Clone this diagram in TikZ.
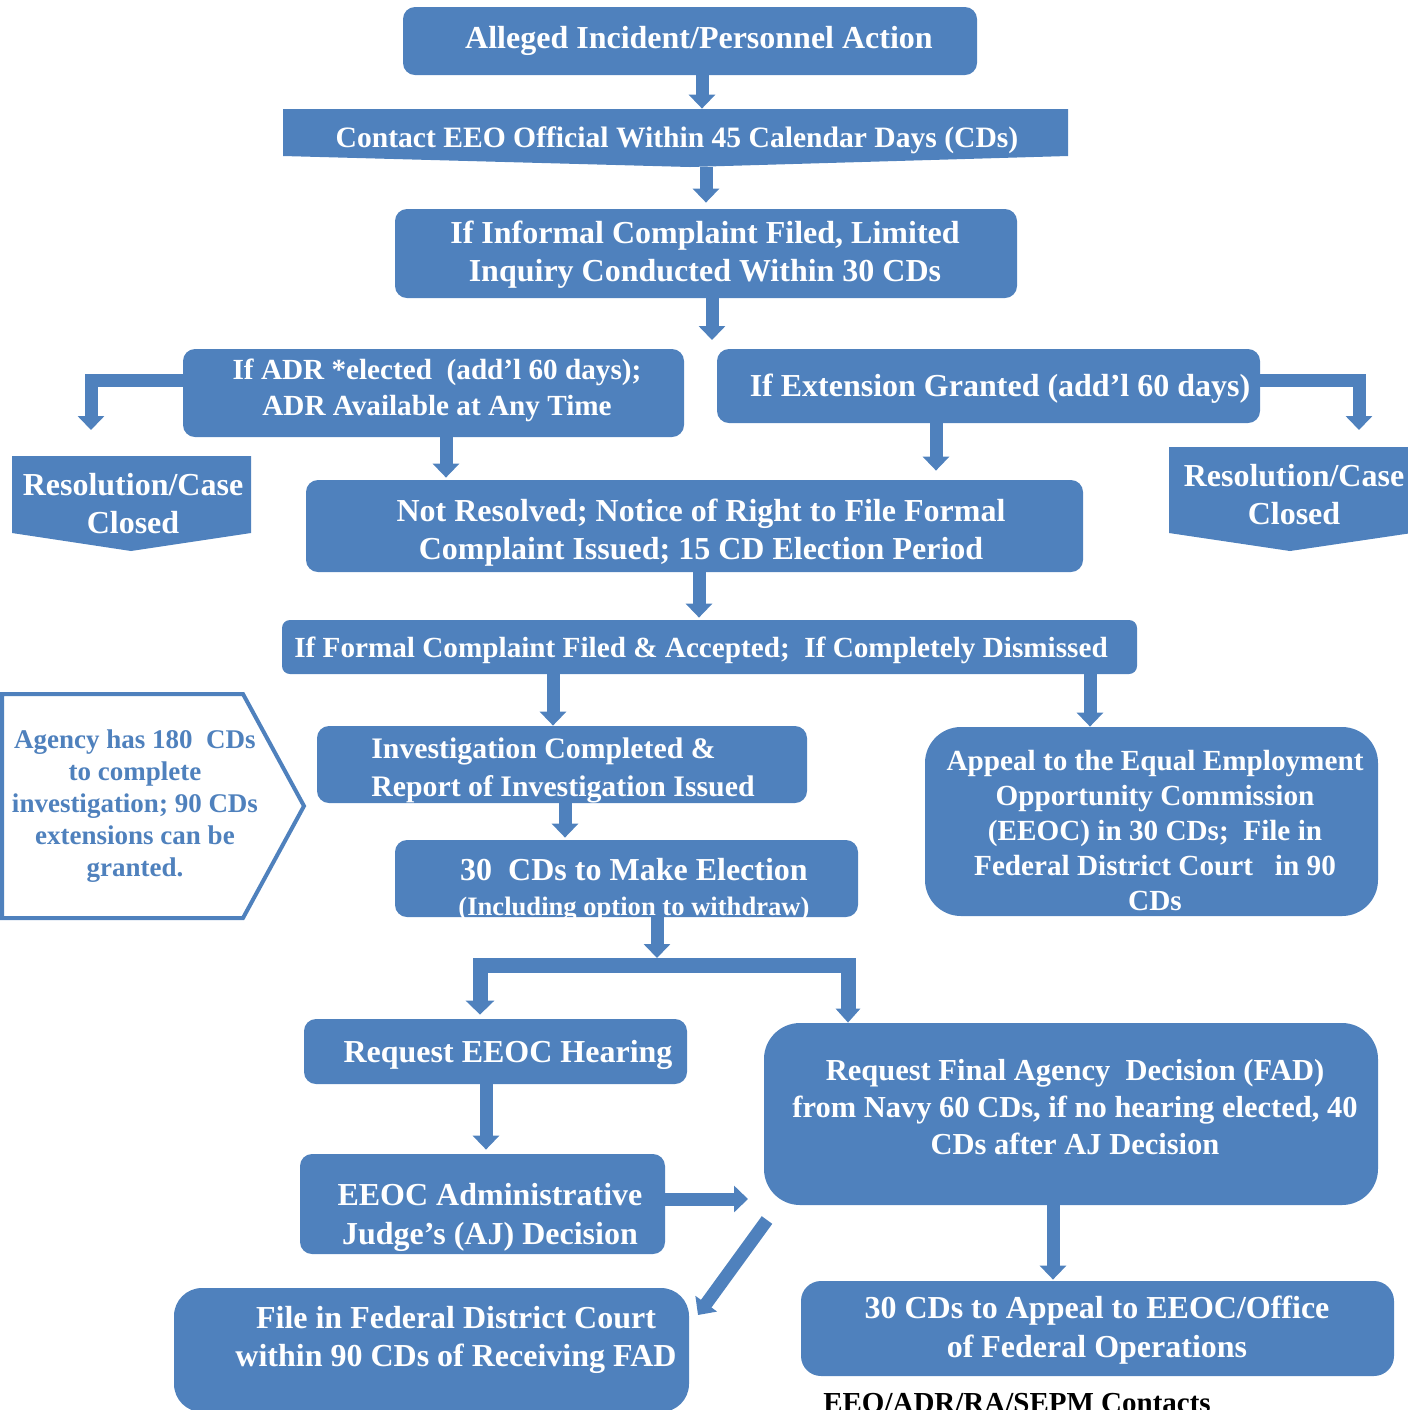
\documentclass[tikz,border=0pt]{standalone}
\usepackage{fontspec}
\setmainfont{Liberation Serif}
\usetikzlibrary{arrows.meta,calc}
\definecolor{blu}{RGB}{79,129,189}
\newcommand{\bfs}[2]{\fontsize{#1}{#2}\selectfont\bfseries}
\begin{document}
\begin{tikzpicture}[x=0.5pt,y=-0.5pt,
  box/.style={fill=blu, inner sep=0pt, rounded corners=6pt},
  ghost/.style={inner sep=0pt},
  wt/.style={text=white, align=center, inner sep=0pt, yshift=-1.5pt},
  bt/.style={text=blu, align=center, inner sep=0pt, yshift=-1pt},
  barrow/.style={draw=blu, line width=6.5pt, -{Triangle[width=13pt,length=7pt]}},
]
\useasboundingbox (0,0) rectangle (1408,1410);
\clip (0,0) rectangle (1408,1410);

% ---------- boxes ----------
\node[box, minimum width=287pt, minimum height=34pt] (n1) at (690,41) {};
\node[wt, font=\bfs{16}{19}] (t1) at (699,38) {Alleged Incident/Personnel Action};

\fill[blu] (283,109) -- (1068,109) -- (1068,156) -- (690,167) -- (283,156) -- cycle;
\node[ghost, minimum width=392.5pt, minimum height=29pt] (n2) at (675.5,138) {};
\node[wt, font=\bfs{14.8}{18}] (t2) at (677,137) {Contact EEO Official Within 45 Calendar Days (CDs)};

\node[box, minimum width=311pt, minimum height=44.5pt] (n3) at (706,253.5) {};
\node[wt, font=\bfs{16}{19}] (t3) at (705,252) {If Informal Complaint Filed, Limited\\Inquiry Conducted Within 30 CDs};

\node[box, minimum width=250.5pt, minimum height=44pt] (adr) at (433.5,393) {};
\node[wt, font=\bfs{14.6}{18}] (tadr) at (437,387) {If ADR *elected~~(add’l 60 days);\\ADR Available at Any Time};

\node[box, minimum width=271.5pt, minimum height=37pt] (ext) at (988.5,386) {};
\node[wt, font=\bfs{16}{19}] (text) at (1000,386) {If Extension Granted (add’l 60 days)};

\fill[blu] (12,456) -- (251,456) -- (251,533) -- (131,551) -- (12,533) -- cycle;
\node[ghost, minimum width=119.5pt, minimum height=47.5pt] (resl) at (131.5,503.5) {};
\node[wt, font=\bfs{16}{19}] (tresl) at (133,501) {Resolution/Case\\Closed};

\fill[blu] (1169,447) -- (1412,447) -- (1412,533) -- (1290,551) -- (1169,533) -- cycle;
\node[ghost, minimum width=121.5pt, minimum height=52pt] (resr) at (1290.5,499) {};
\node[wt, font=\bfs{16}{19}] (tresr) at (1294,492) {Resolution/Case\\Closed};

\node[box, minimum width=388.5pt, minimum height=46pt] (nr) at (694.5,526) {};
\node[wt, font=\bfs{16}{19}] (tnr) at (701,530) {Not Resolved; Notice of Right to File Formal\\Complaint Issued; 15 CD Election Period};

\node[box, rounded corners=4pt, minimum width=427.5pt, minimum height=27pt] (ff) at (709.5,647) {};
\node[wt, font=\bfs{14.6}{18}] (tff) at (701,647) {If Formal Complaint Filed \& Accepted;~~If Completely Dismissed};

\node[box, minimum width=245pt, minimum height=38.5pt] (inv) at (562,764.5) {};
\node[wt, align=left, font=\bfs{14.9}{19}] (tinv) at (563,767) {Investigation Completed \&\\Report of Investigation Issued};

\node[box, minimum width=231.5pt, minimum height=38.5pt] (el) at (626.5,878.5) {};
\node[wt, font=\bfs{16}{17.5}] (tel) at (634,887) {30~~CDs to Make Election\\{\fontsize{13.3}{17.5}\selectfont (Including option to withdraw)}};

\node[box, rounded corners=18pt, minimum width=226.5pt, minimum height=94.5pt] (ap) at (1151.5,821.5) {};
\node[wt, font=\bfs{14.6}{17.5}] (tap) at (1155,827) {Appeal to the Equal Employment\\Opportunity Commission\\(EEOC) in 30 CDs;~~File in\\Federal District Court~~~in 90\\CDs};

\draw[blu, line width=2pt, fill=white] (2,694) -- (243,694) -- (304,806) -- (243,918) -- (2,918) -- cycle;
\node[ghost, minimum width=151pt, minimum height=112pt] (ag) at (153,806) {};
\node[bt, font=\bfs{13.5}{16}] (tag) at (135,804) {Agency has 180~~CDs\\to complete\\investigation; 90 CDs\\extensions can be\\granted.};

\node[box, minimum width=191.5pt, minimum height=32.5pt] (req) at (495.5,1051.5) {};
\node[wt, font=\bfs{16}{19}] (treq) at (508,1052) {Request EEOC Hearing};

\node[box, rounded corners=18pt, minimum width=307pt, minimum height=91pt] (fad) at (1071,1114) {};
\node[wt, font=\bfs{15.25}{18.5}] (tfad) at (1075,1104) {Request Final Agency~~Decision (FAD)\\from Navy 60 CDs, if no hearing elected, 40\\CDs after AJ Decision};

\node[box, minimum width=182.5pt, minimum height=50pt] (aj) at (482.5,1204) {};
\node[wt, font=\bfs{16}{19.5}] (taj) at (490,1214) {EEOC Administrative\\Judge’s (AJ) Decision};

\node[box, rounded corners=14pt, minimum width=257.5pt, minimum height=62pt] (fc) at (431.5,1350) {};
\node[wt, font=\bfs{16}{19}] (tfc) at (456,1337) {File in Federal District Court\\within 90 CDs of Receiving FAD};

\node[box, rounded corners=10pt, minimum width=296.5pt, minimum height=47.5pt] (a30) at (1097.5,1328.5) {};
\node[wt, font=\bfs{16}{19.5}] (ta30) at (1097,1327) {30 CDs to Appeal to EEOC/Office\\of Federal Operations};

\node[inner sep=0pt, anchor=base, font=\bfs{14.5}{17}] (cont) at (1017,1412) {EEO/ADR/RA/SEPM Contacts};

% ---------- connector coordinates ----------
\coordinate (x702) at (702,0);
\coordinate (x706) at (706,0);
\coordinate (x712) at (712,0);
\coordinate (a3e) at (712,340);
\coordinate (y380) at (0,380);
\coordinate (eL) at (91,430);
\coordinate (eR) at (1359,430);
\coordinate (x446) at (446,0);
\coordinate (x936) at (936,0);
\coordinate (x699) at (699,0);
\coordinate (x553) at (553,0);
\coordinate (x1090) at (1090,0);
\coordinate (x565) at (565,0);
\coordinate (x657) at (657,0);
\coordinate (bartop) at (657,958);
\coordinate (xb1) at (480,0);
\coordinate (xb2) at (848,0);
\coordinate (ybar) at (0,965);
\coordinate (x486) at (486,0);
\coordinate (y1199) at (0,1199);
\coordinate (ajend) at (748,1199);
\coordinate (d1) at (767,1220);
\coordinate (d2) at (698,1315);
\coordinate (x1053) at (1053,0);

% ---------- connectors ----------
\draw[barrow] (n1.south -| x702) -- (n2.north -| x702);
\draw[barrow, shorten >=3pt] (n2.south -| x706) -- (n3.north -| x706);
\draw[barrow] (n3.south -| x712) -- (a3e);
\draw[barrow] (adr.west |- y380) -| (eL);
\draw[barrow] (ext.east |- y380) -| (eR);
\draw[barrow, shorten >=1pt] (adr.south -| x446) -- (nr.north -| x446);
\draw[barrow, shorten >=4.5pt] (ext.south -| x936) -- (nr.north -| x936);
\draw[barrow, shorten >=1pt] (nr.south -| x699) -- (ff.north -| x699);
\draw[barrow] (ff.south -| x553) -- (inv.north -| x553);
\draw[barrow] (ff.south -| x1090) -- (ap.north -| x1090);
\draw[barrow, shorten >=1pt] (inv.south -| x565) -- (el.north -| x565);
\draw[barrow] (el.south -| x657) -- (bartop);
\draw[draw=blu, line width=7.5pt, {Triangle[width=14pt,length=7pt]}-{Triangle[width=12pt,length=7pt]}]
  ([yshift=2pt]req.north -| xb1) -- (xb1 |- ybar) -- (xb2 |- ybar) -- (fad.north -| xb2);
\draw[barrow, shorten >=2pt] (req.south -| x486) -- (aj.north -| x486);
\draw[barrow] (aj.east |- y1199) -- (ajend);
\draw[barrow] (d1) -- (d2);
\draw[barrow, shorten >=0.5pt] (fad.south -| x1053) -- (a30.north -| x1053);
\end{tikzpicture}
\end{document}
